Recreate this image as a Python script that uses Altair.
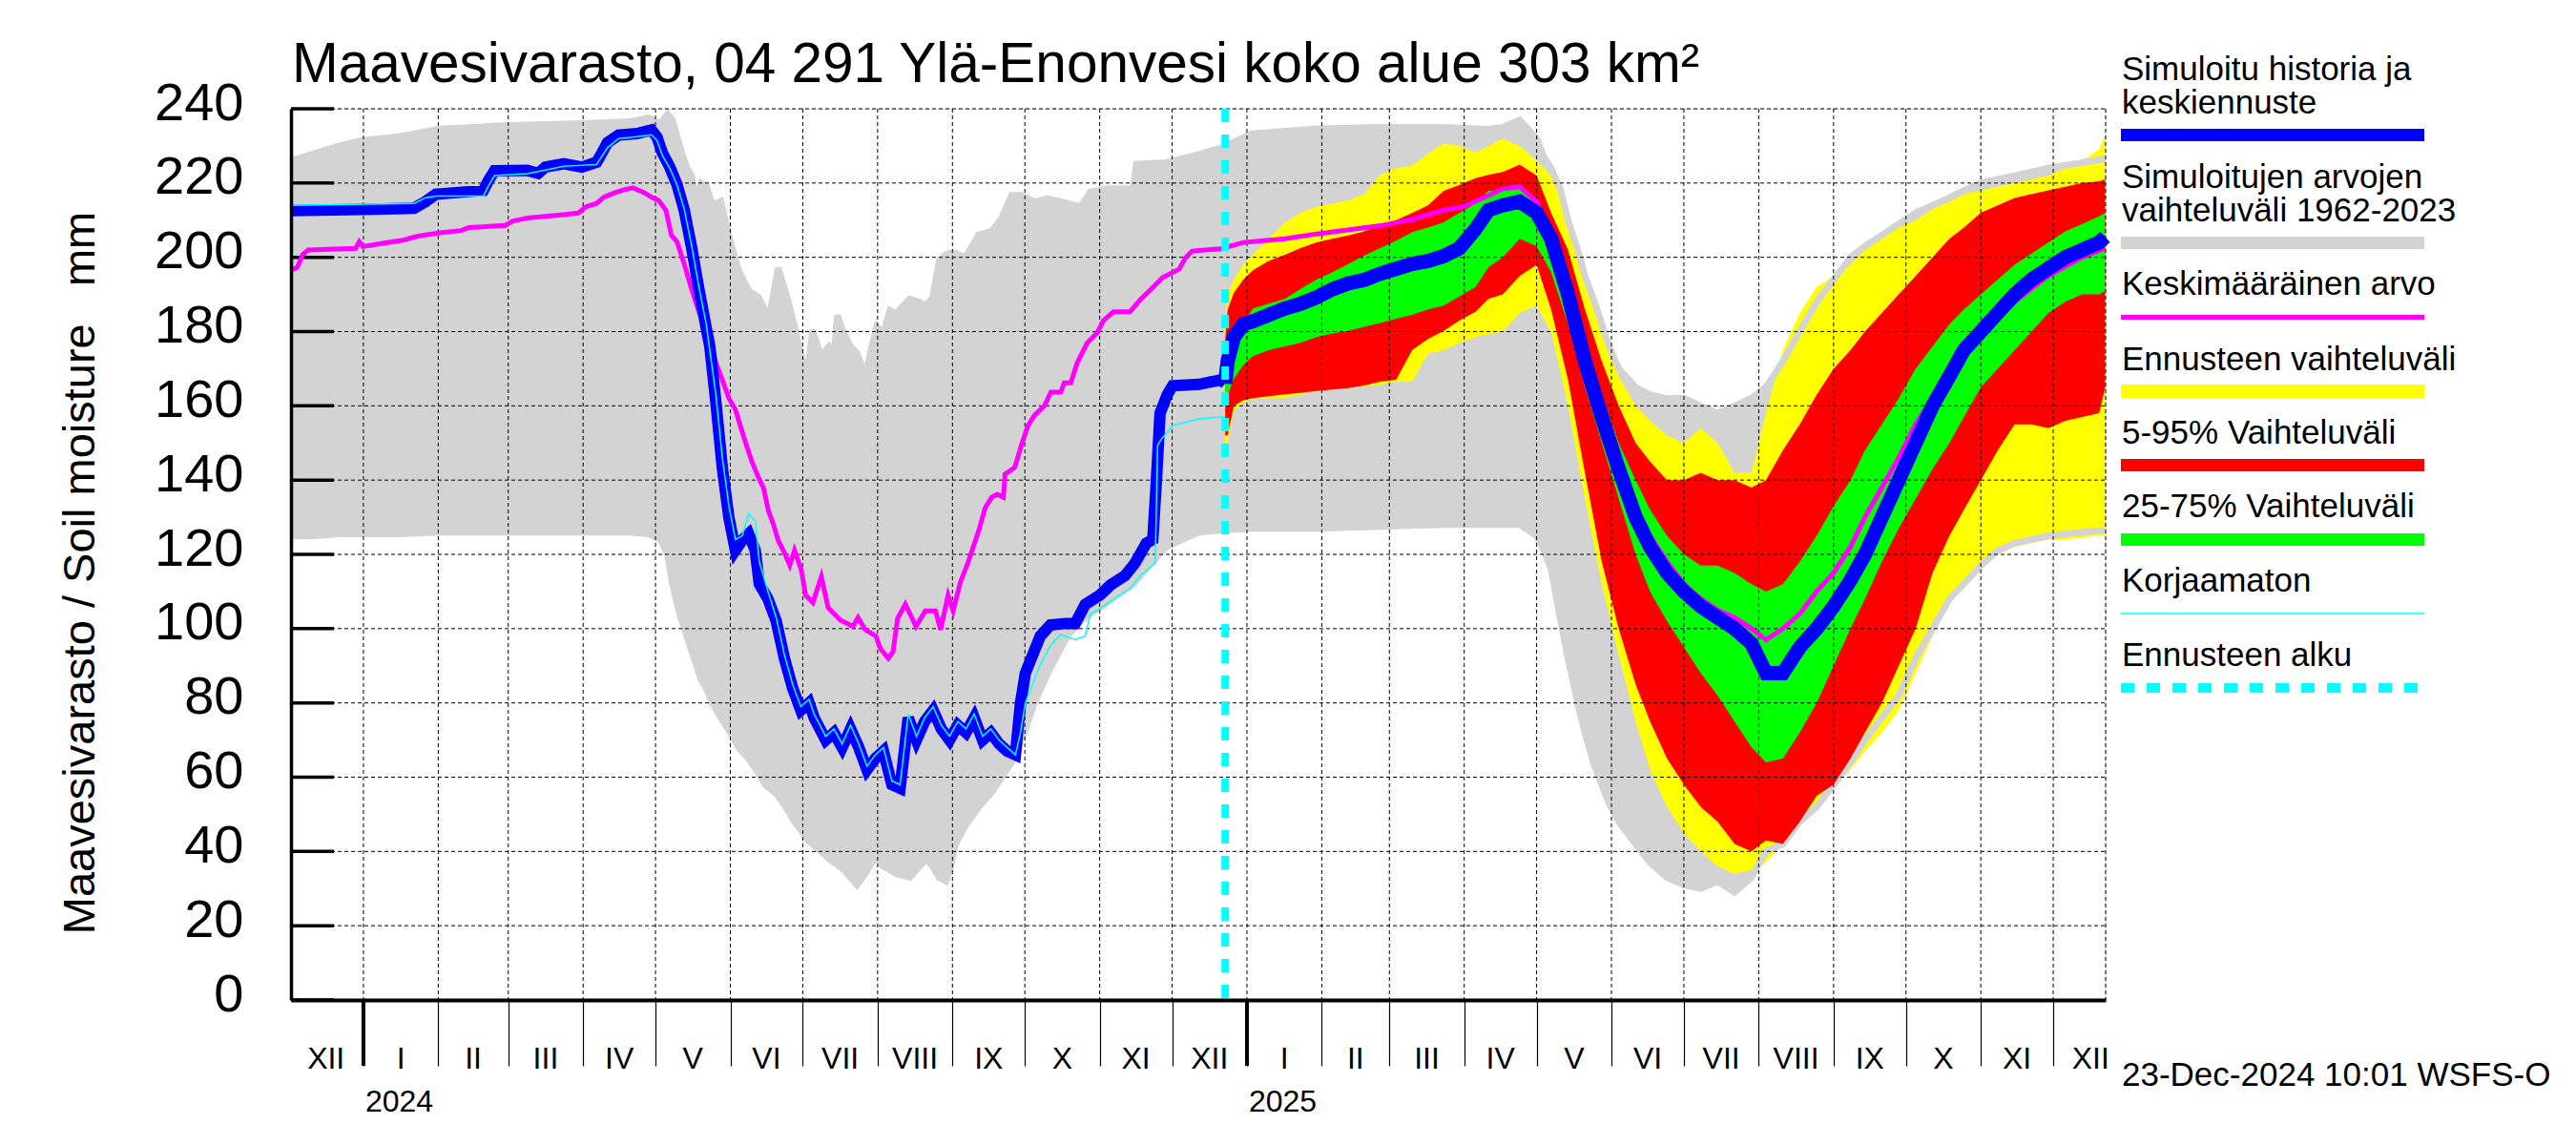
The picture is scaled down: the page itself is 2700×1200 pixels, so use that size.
import altair as alt
import pandas as pd
import numpy as np

BASE = pd.Timestamp("2024-01-01")

# ---------------- data (x = days since 2024-01-01) ----------------
gray_days = [-30, -20, -10, 0, 15, 31, 60, 91, 110, 118, 123, 126, 128, 131, 134, 136, 138, 140, 142,
             144.6, 148, 152, 155.5, 159.6, 163.7, 166.4, 168.4, 171.8, 175.9, 178.6, 182.1, 184.1,
             186.1, 189.5, 192.9, 195, 196.3, 199.1, 201.8, 204.5, 207.9, 210.6, 212.7, 215.4, 218.1,
             220.8, 223.6, 226.3, 230.4, 233.1, 235.8, 238.5, 241.3, 243, 245.3, 249.4, 254.9, 260.3,
             264.4, 268.5, 272.6, 278, 283.5, 291.6, 297.1, 301.1, 308, 318.9, 320.2, 332.5, 346.1,
             355.3, 368, 395, 421, 447, 466, 472, 479, 486, 489, 492, 496, 499, 503, 506, 510, 513,
             516, 520, 527, 533, 540, 547, 554, 561, 568, 575, 581, 588, 595, 602, 609, 616, 622,
             629, 636, 643, 650, 657, 663, 670, 677, 684, 698, 712, 721.5]
gray_hi = [226, 228, 230, 231.5, 232.5, 234.5, 235.5, 236, 236.5, 237.5, 236, 238.5, 237, 230, 224, 222,
           214, 220, 219.3, 214, 215, 204.3, 196.3, 191, 189.2, 185.7, 184.8, 197.2, 188.4, 181.3, 171.5,
           169.8, 180.4, 173.3, 176, 174.2, 184.4, 179.5, 176, 174.2, 168, 176, 181.3, 179.5, 185.7,
           184.8, 187, 188.8, 187.9, 187, 189.2, 199, 200.7, 201, 201.2, 199.9, 206.1, 207, 210.5,
           216.7, 216.7, 214.9, 215.8, 214.5, 213.6, 217.6, 218.5, 218.5, 225.1, 225.5, 227.7, 229.5,
           233.3, 234.6, 235, 235, 234.5, 235, 237, 232, 227, 224, 218, 210, 202, 195, 188, 182, 176,
           170, 165, 163, 162, 162, 160, 158, 160, 162, 165, 172, 180, 188, 194, 200, 203, 206, 209,
           212, 214, 216, 218, 220, 221, 222, 224, 225.5, 226.5]
gray_lo = [125, 125, 125.5, 125.5, 125.5, 126, 126, 126, 126, 125.5, 124, 120, 112, 104, 98, 94, 90, 86,
           84, 80, 76, 72, 68, 65, 61, 58, 57, 55, 51, 48, 45, 43, 42, 40, 38, 37, 36.5, 35, 33, 31, 34,
           37, 38, 36, 35, 34, 33.5, 33, 36, 38, 36, 33, 32, 35, 42, 47, 52, 56, 60, 64, 70, 80, 88, 98,
           102, 104, 107, 112, 113, 122, 126, 126.5, 127, 127, 127.5, 128, 128, 128, 128, 125, 121, 116,
           102, 92, 80, 72, 63, 58, 53, 48, 42, 37, 33, 31, 30, 32, 29, 33, 40, 42, 48, 52, 58, 64, 70,
           76, 82, 92, 100, 108, 112, 117, 121, 123, 125, 126, 126.5]

# simulated history (blue)
hist_days = [-30, -0.2, 21, 25.5, 30, 49.7, 52, 54.3, 67.9, 72.4, 75.4, 83, 90.5, 96.6, 98.9, 101.1, 105.7,
             113.2, 119.3, 121.6, 123.8, 126.9, 129.9, 132.9, 136, 139, 142, 143.5, 146, 148.7, 151.4,
             154.1, 156.9, 159.6, 162.3, 164, 167.6, 171, 174.4, 177.8, 181.2, 184.6, 186.7, 191.5,
             194.9, 198.3, 201.8, 205.2, 208.6, 212, 215.4, 218.9, 222.3, 225.7, 229.1, 232.5, 236,
             239.4, 242.8, 246.2, 249.6, 253, 256.5, 259.9, 263.3, 266.7, 270.1, 272.2, 274.2, 280.4,
             284.6, 290.8, 294.9, 299, 305.2, 309.4, 315.5, 319.7, 324.3, 327, 328.5, 330, 333, 335.2,
             346.1, 355.3, 357]
hist_vals = [212.6, 212.9, 213.2, 214.9, 217, 218, 220.9, 223.3, 223.4, 222.6, 224.3, 225.2, 224.3, 225.6,
             228.2, 230.9, 232.9, 233.3, 234.3, 232.4, 228.2, 224.3, 219.6, 212.7, 202.5, 191.3, 181,
             176, 161, 143.2, 129.9, 121.1, 123.8, 125.5, 121.1, 112, 108, 102, 92, 84, 78, 80, 76, 70,
             72, 68, 73, 68, 62, 65, 67, 58, 57, 76, 70, 75, 78, 73, 70, 74, 72, 76, 70, 72, 69, 67, 66,
             80, 88, 98, 101, 101.4, 101.4, 106.5, 109.1, 111.7, 114.3, 117.7, 123, 124, 140, 158, 163,
             165.4, 165.8, 167, 166]

# uncorrected (cyan)
raw_days = [-30, 21, 25.5, 30, 49.7, 52, 54.3, 67.9, 75.4, 83, 96.6, 101.1, 105.7, 113.2, 119.3, 121.6,
            123.8, 126.9, 129.9, 132.9, 136, 139, 142, 146, 148.7, 151.4, 154.1, 156.9, 159.6, 162.3, 164,
            167.6, 171, 174.4, 177.8, 181.2, 184.6, 186.7, 191.5, 194.9, 198.3, 201.8, 205.2, 208.6, 212,
            215.4, 218.9, 222.3, 225.7, 229.1, 232.5, 236, 239.4, 242.8, 246.2, 249.6, 253, 256.5, 259.9,
            263.3, 266.7, 270.1, 272.2, 274.2, 280.4, 284.6, 288.7, 294.9, 299, 301.1, 305.2, 309.4,
            313.5, 317.6, 321.8, 328, 329, 330.5, 332.5, 335.2, 346.1, 355.3, 357]
raw_vals = [214, 214.5, 216, 216.5, 216.5, 219.5, 222, 222.5, 223.5, 224.5, 225, 229.5, 232, 232.5, 233,
            231.5, 227.5, 224, 219.5, 213, 203, 192, 182, 163, 146, 133, 124, 125, 131, 129, 118, 110,
            103, 93, 85, 79, 81, 77, 71, 73, 69, 74, 69, 63, 66, 68, 59, 58, 77, 71, 76, 79, 74, 71, 75,
            73, 77, 71, 73, 70, 68, 66, 72, 80, 90.3, 95.4, 98.4, 97.1, 98, 104, 105.3, 107.4, 109.1,
            110.8, 114.3, 117.7, 149.4, 151, 152.5, 154.7, 156.5, 157, 157]

# long-term mean (magenta)
mean_days = [-30, -27.4, -25.2, -22.9, -3.2, -1.7, -0.2, 7.4, 16.4, 22.5, 31.6, 40.6, 43.7, 58.8, 61.8,
             67.9, 75.4, 83, 89, 92.1, 96.6, 99.6, 104.2, 108.7, 111.7, 116.3, 119.3, 122.3, 125.3, 127.6,
             129.9, 132.9, 136, 139, 142, 146, 148.7, 151.4, 154.1, 156.9, 158.2, 160.9, 163.7, 165.7,
             167.8, 169.8, 171.8, 174.6, 176.6, 178.6, 181.4, 183.2, 186.2, 189.7, 192.5, 197.6, 202.8,
             204.9, 207.9, 212.3, 214.2, 217.4, 219.4, 221.3, 224.5, 228.9, 232.8, 237, 239.1, 242.2,
             244.3, 247.3, 250.4, 254.9, 257.6, 260.3, 262.5, 265.1, 265.8, 269.8, 272.6, 275.3, 278,
             282.1, 284.8, 288.9, 290.3, 293, 295.7, 299.8, 303.9, 306.6, 310.7, 317.5, 321.6, 327, 331.1,
             337.9, 340.6, 343.3, 355.3, 364.5, 381.7, 394.9, 421.2, 434.4, 447.4, 455.3, 466, 472, 479,
             486, 492, 499, 506, 513, 520, 527, 533, 540, 547, 554, 561, 568, 575, 581, 588, 595, 602,
             609, 616, 622, 629, 636, 643, 650, 657, 663, 670, 684, 698, 712, 721.5]
mean_vals = [196.5, 197.3, 200.7, 202, 202.4, 204.2, 202.9, 203.7, 204.6, 205.7, 206.6, 207.2, 208, 208.6,
             209.7, 210.6, 211, 211.5, 211.9, 213.6, 214.5, 216.2, 217.4, 218.3, 218.7, 217.4, 216.2,
             215.3, 212.7, 205.9, 204.2, 198.2, 191.3, 185.3, 181, 171.6, 167, 162, 159, 153, 150.3, 145,
             140.6, 138, 131.7, 128.2, 123.8, 120.2, 117.1, 121.1, 115.8, 109, 107, 114, 105.7, 102.3,
             100.6, 103, 99.7, 98, 94.6, 92, 93.8, 102.8, 106.6, 100.6, 104.8, 104.8, 99.7, 109, 104.8,
             112.5, 117.7, 126.4, 132.6, 135.4, 136.2, 135.4, 141.6, 143.4, 149.5, 154.7, 157.5, 160,
             163.7, 163.7, 166.2, 166.2, 171.6, 176.9, 179.6, 183, 185.3, 185.3, 188.4, 191.9, 194.6,
             196.8, 199.9, 201.7, 202.3, 204, 205, 206.3, 208.5, 210.2, 212.7, 213.6, 216.6, 218.5, 219,
             215, 205, 191, 175, 160, 145, 133, 125, 118, 112, 108, 105, 103, 100, 97, 100, 104, 110, 115,
             122, 130, 138, 146, 155, 162, 168, 175, 180, 188, 195, 200, 202.5]

# forecast bands
fc_days = [357, 358, 360.6, 364.5, 368.5, 375, 381.7, 388.2, 394.8, 401.4, 408, 414.6, 421.2, 427.8,
           434.4, 441, 447.5, 454.1, 460.7, 466, 472, 479, 486, 492, 499, 506, 513, 520, 527, 533, 540,
           547, 554, 561, 568, 575, 581, 588, 595, 602, 609, 616, 622, 629, 636, 643, 650, 657, 663, 670,
           677, 684, 691, 698, 705, 712, 719, 721.5]
fc_max = [182, 190, 194, 198, 200.7, 205, 209.3, 212, 213.6, 214.5, 215.3, 217, 222.2, 224, 224.7, 228,
          230.7, 230, 228.2, 230, 232, 230, 226, 222, 212, 197, 182, 168, 160, 156, 152, 150, 154, 150,
          142, 142, 158, 175, 185, 192, 195, 198, 202, 205, 208, 210, 213, 215, 217, 218, 219, 220, 221,
          222, 224, 226, 229, 233]
fc_min = [150, 150, 158.8, 161, 161.8, 162, 162.2, 163, 164, 164.4, 164.8, 165.2, 165.7, 166.5, 166.5,
          174, 175, 177, 178.5, 179.3, 180, 185, 187, 180, 160, 135, 112, 93, 75, 62, 52, 45, 40, 36, 34,
          35, 37, 42, 48, 53, 57, 62, 67, 72, 78, 88, 98, 108, 112, 117, 120, 122, 123, 124, 124, 124.5,
          125, 125]
fc_p95 = [178, 186, 190.5, 194, 196.5, 199, 200.7, 202.5, 204, 205, 205.9, 207, 208.5, 210, 211.9, 214,
          217.9, 219.5, 221.3, 222.2, 223, 225, 222, 212, 202, 186, 172, 160, 150, 145, 140, 140, 142, 140,
          140, 138, 140, 148, 155, 163, 170, 175, 180, 185, 190, 195, 200, 205, 208, 212, 214, 216, 217,
          218, 219, 220, 220.5, 221]
fc_p05 = [152, 152, 160, 161.5, 162.1, 162.6, 163.1, 163.5, 164, 164.4, 164.8, 165.5, 166.5, 167, 175,
          178, 180.2, 183, 185.3, 188.8, 190, 195, 198, 186, 167, 142, 118, 100, 85, 75, 65, 58, 52, 48,
          42, 40, 43, 42, 48, 55, 58, 65, 72, 80, 90, 100, 115, 125, 132, 140, 148, 155, 155, 154, 156,
          157, 158, 165]
fc_p75 = [172, 178, 177.6, 182, 186.2, 187.5, 188.8, 191.5, 194, 196, 198.2, 200.5, 202.5, 204.5, 206.8,
          208, 209.4, 212, 214.5, 217.9, 218, 219, 214, 206, 194, 178, 163, 150, 140, 132, 125, 120, 117,
          117, 115, 112, 110, 112, 118, 125, 133, 140, 148, 155, 162, 170, 176, 182, 186, 190, 194, 198,
          201, 204, 207, 209, 211, 212]
fc_p25 = [160, 163, 167.3, 171, 173.4, 175, 176, 177, 178.5, 179.5, 180.2, 181.3, 182.3, 183.5, 184.5, 186,
          187, 189.5, 192, 197.3, 200, 205, 203, 196, 182, 165, 150, 135, 120, 110, 102, 95, 88, 82, 75,
          68, 64, 65, 72, 80, 90, 100, 108, 118, 127, 135, 143, 150, 157, 165, 170, 175, 180, 185, 188,
          190, 190, 191]
fc_med = [166, 172, 178.5, 182, 182.8, 184.5, 186.2, 187.5, 189.2, 191.4, 193, 193.9, 195.6, 196.9, 198.2,
          199, 200.3, 202.5, 207.6, 212.7, 214, 215, 212, 205, 190, 172, 157, 143, 130, 122, 115, 110, 106,
          103, 100, 96, 88, 88, 95, 100, 106, 113, 120, 130, 140, 150, 160, 168, 175, 180, 185, 190, 194,
          197, 200, 202, 204, 205.5]

forecast_start_day = 357
y_ticks = list(range(0, 241, 20))
roman = ["I", "II", "III", "IV", "V", "VI", "VII", "VIII", "IX", "X", "XI", "XII"]
years = [2024, 2025]

title_text = "Maavesivarasto, 04 291 Ylä-Enonvesi koko alue 303 km²"
ytitle = "Maavesivarasto / Soil moisture\u00a0\u00a0\u00a0mm"
stamp = "23-Dec-2024 10:01 WSFS-O"
legend_items = [
    (["Simuloitu historia ja", "keskiennuste"], "#0000ff", 13, None),
    (["Simuloitujen arvojen", "vaihteluväli 1962-2023"], "#d3d3d3", 13, None),
    (["Keskimääräinen arvo"], "#ff00ff", 5, None),
    (["Ennusteen vaihteluväli"], "#ffff00", 14, None),
    (["5-95% Vaihteluväli"], "#ff0000", 13, None),
    (["25-75% Vaihteluväli"], "#00ff00", 13, None),
    (["Korjaamaton"], "#00ffff", 1.5, None),
    (["Ennusteen alku"], "#00ffff", 10, [14, 13]),
]

# ---------------- helpers ----------------
W, H = 1902, 934
FONT = "Liberation Sans"


def iso(days):
    d = BASE + pd.to_timedelta(np.asarray(days, dtype=float), unit="D")
    return d.strftime("%Y-%m-%dT%H:%M:%SZ")


def frame(days, **cols):
    df = pd.DataFrame({"day": days, **cols})
    df["date"] = iso(df["day"])
    return df


xscale = alt.Scale(type="utc", domain=[alt.DateTime(year=2023, month=12, date=2, hours=0, utc=True),
                                       alt.DateTime(year=2025, month=12, date=22, hours=17, utc=True)])
yscale = alt.Scale(domain=[0, 240], nice=False, zero=False)

month_starts = pd.date_range("2024-01-01", "2025-12-01", freq="MS")
xaxis = alt.Axis(values=[alt.DateTime(year=int(m.year), month=int(m.month), date=1, utc=True) for m in month_starts],
                 labels=False, ticks=True, tickSize=69, tickWidth=1.2, tickColor="black", grid=False,
                 domainColor="black", domainWidth=4, title=None, zindex=1)
yaxis = alt.Axis(values=y_ticks, grid=False, ticks=False, labelFontSize=56, labelPadding=50,
                 labelColor="black", labelFont=FONT, labelOffset=-6, domainColor="black", domainWidth=3.5,
                 title=ytitle, titleFont=FONT, titleFontSize=47, titleFontWeight="normal", titleColor="black",
                 titleX=-207, titleY=486, titleAngle=270, titleBaseline="alphabetic", titleAlign="center",
                 zindex=1)


def X(field="date"):
    return alt.X(f"{field}:T", scale=xscale, axis=xaxis)


def Y(field):
    return alt.Y(f"{field}:Q", scale=yscale, axis=yaxis)


gray = frame(gray_days, lo=gray_lo, hi=gray_hi)
fc = frame(fc_days, ymax=fc_max, ymin=fc_min, p95=fc_p95, p05=fc_p05, p75=fc_p75, p25=fc_p25, med=fc_med)
blue_hist = frame(hist_days, v=hist_vals)
blue_fc = frame(fc_days, v=fc_med)
raw = frame(raw_days, v=raw_vals)
mean = frame(mean_days, v=mean_vals)

months = pd.DataFrame({"m": month_starts})
months["date"] = months["m"].dt.strftime("%Y-%m-%dT%H:%M:%SZ")
grid_x = pd.DataFrame({"date": list(months["date"]) + [iso([721.7])[0]]})
grid_y = pd.DataFrame({"v": y_ticks[1:]})
ticks_y = pd.DataFrame({"v": y_ticks})

lab_months = pd.date_range("2023-12-01", "2025-12-01", freq="MS")
mid = lab_months + pd.to_timedelta(lab_months.days_in_month / 2.0, unit="D")
mlabels = pd.DataFrame({"date": mid.strftime("%Y-%m-%dT%H:%M:%SZ"),
                        "t": [roman[m.month - 1] for m in lab_months]})
ylabels = pd.DataFrame({"date": [f"{y}-01-01T00:00:00Z" for y in years], "t": [str(y) for y in years]})
fstart = pd.DataFrame({"date": iso([forecast_start_day])})
one = pd.DataFrame({"k": [0]})

layers = []
layers.append(alt.Chart(gray).mark_area(color="#d3d3d3").encode(x=X(), y=Y("hi"), y2="lo:Q"))
layers.append(alt.Chart(fc).mark_area(color="#ffff00").encode(x=X(), y=Y("ymax"), y2="ymin:Q"))
layers.append(alt.Chart(gray).mark_line(color="#d3d3d3", strokeWidth=7).encode(x=X(), y=Y("hi")))
layers.append(alt.Chart(gray).mark_line(color="#d3d3d3", strokeWidth=7).encode(x=X(), y=Y("lo")))
layers.append(alt.Chart(fc).mark_area(color="#ff0000").encode(x=X(), y=Y("p95"), y2="p05:Q"))
layers.append(alt.Chart(fc).mark_area(color="#00ff00").encode(x=X(), y=Y("p75"), y2="p25:Q"))
# grid
layers.append(alt.Chart(grid_x).mark_rule(color="black", strokeWidth=1, strokeDash=[4, 3]).encode(
    x=X(), y=alt.value(0), y2=alt.value(H)))
layers.append(alt.Chart(grid_y).mark_rule(color="black", strokeWidth=1, strokeDash=[4, 3]).encode(
    y=Y("v"), x=alt.value(0), x2=alt.value(W)))
layers.append(alt.Chart(ticks_y).mark_rule(color="black", strokeWidth=3.5).encode(
    y=Y("v"), x=alt.value(0), x2=alt.value(45)))
# lines
layers.append(alt.Chart(mean).mark_line(color="#ff00ff", strokeWidth=5).encode(x=X(), y=Y("v")))
layers.append(alt.Chart(blue_hist).mark_line(color="#0000ff", strokeWidth=12).encode(x=X(), y=Y("v")))
layers.append(alt.Chart(blue_fc).mark_line(color="#0000ff", strokeWidth=15).encode(x=X(), y=Y("v")))
layers.append(alt.Chart(raw).mark_line(color="#00ffff", strokeWidth=1.5).encode(x=X(), y=Y("v")))
layers.append(alt.Chart(fstart).mark_rule(color="#00ffff", strokeWidth=8, strokeDash=[14, 13]).encode(
    x=X(), y=alt.value(0), y2=alt.value(H)))
# year ticks and labels
layers.append(alt.Chart(ylabels).mark_rule(color="black", strokeWidth=4).encode(
    x=X(), y=alt.value(H), y2=alt.value(H + 69)))
layers.append(alt.Chart(ylabels).mark_text(font=FONT, fontSize=32, align="left", baseline="alphabetic",
                                           dx=2, color="black").encode(x=X(), y=alt.value(1051), text="t:N"))
layers.append(alt.Chart(mlabels).mark_text(font=FONT, fontSize=32, align="center", baseline="alphabetic",
                                           color="black").encode(x=X(), y=alt.value(1006), text="t:N"))
# title and stamp
layers.append(alt.Chart(one).mark_text(text=title_text, font=FONT, fontSize=58.5, align="left",
                                       baseline="alphabetic", color="black").encode(
    x=alt.value(1), y=alt.value(-28)))
layers.append(alt.Chart(one).mark_text(text=stamp, font=FONT, fontSize=35, align="left",
                                       baseline="alphabetic", color="black").encode(
    x=alt.value(1919), y=alt.value(1024)))
# legend
text_y = [-30, 5, 83, 118, 195, 274, 351, 428, 506, 584]
bar_y = [27.5, 140.5, 218.5, 296, 373.5, 451.5, 529, 607]
ti = 0
for i, (lines, col, sw, dash) in enumerate(legend_items):
    for ln in lines:
        layers.append(alt.Chart(one).mark_text(text=ln, font=FONT, fontSize=35, align="left",
                                               baseline="alphabetic", color="black").encode(
            x=alt.value(1919), y=alt.value(text_y[ti])))
        ti += 1
    kw = dict(color=col, strokeWidth=sw, strokeCap="butt")
    if dash:
        kw["strokeDash"] = dash
    layers.append(alt.Chart(one).mark_rule(**kw).encode(
        x=alt.value(1918), x2=alt.value(2236), y=alt.value(bar_y[i])))

chart = alt.layer(*layers).properties(
    width=W, height=H,
    autosize=alt.AutoSizeParams(type="none"),
    padding={"left": 297, "top": 106, "right": 481, "bottom": 140},
).configure_view(stroke="transparent").configure(font=FONT)

chart.save("out.html", embed_options={"renderer": "svg", "actions": False})
